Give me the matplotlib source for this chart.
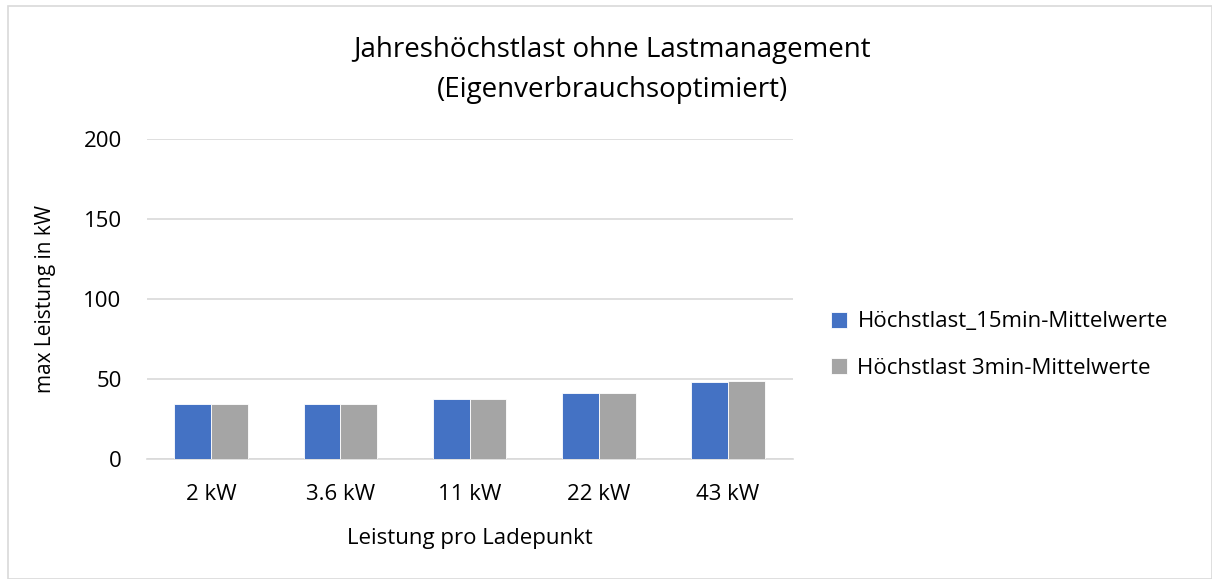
import numpy as np
import matplotlib.pyplot as plt
from matplotlib.patches import Rectangle

plt.rcParams['font.family'] = ['Open Sans', 'DejaVu Sans']

categories = ['2 kW', '3.6 kW', '11 kW', '22 kW', '43 kW']
last_15min = [34.4, 34.8, 37.5, 41.3, 48.3]
last_3min = [34.4, 34.8, 37.5, 41.3, 49.1]
series_names = ['Höchstlast_15min-Mittelwerte', 'Höchstlast 3min-Mittelwerte']

fig = plt.figure(figsize=(12.12, 5.79), dpi=100)
ax = fig.add_axes([0.121, 0.2067, 0.533, 0.5533])

x = np.arange(len(categories))
w = 0.285
ax.bar(x - w / 2, last_15min, w, color='#4472c4', edgecolor='white', linewidth=0.6,
       label=series_names[0], zorder=3)
ax.bar(x + w / 2, last_3min, w, color='#a5a5a5', edgecolor='white', linewidth=0.6,
       label=series_names[1], zorder=3)

ax.set_xlim(-0.5, len(categories) - 0.5)
ax.set_ylim(0, 200)
ax.set_yticks([0, 50, 100, 150, 200])
ax.set_xticks(x)
ax.set_xticklabels(categories)
ax.grid(axis='y', color='#d9d9d9', linewidth=1.2, zorder=0)
for s in ['top', 'right', 'left']:
    ax.spines[s].set_visible(False)
ax.spines['bottom'].set_color('#d9d9d9')
ax.spines['bottom'].set_linewidth(1.2)
ax.tick_params(length=0, labelsize=16, colors='#000000')
ax.tick_params(axis='x', pad=18)
ax.tick_params(axis='y', pad=18)

ax.set_xlabel('Leistung pro Ladepunkt', fontsize=16, labelpad=16)
ax.set_ylabel('max Leistung in kW', fontsize=15, labelpad=20)

fig.text(0.505, 0.913, 'Jahreshöchstlast ohne Lastmanagement', ha='center', va='center', fontsize=20)
fig.text(0.505, 0.844, '(Eigenverbrauchsoptimiert)', ha='center', va='center', fontsize=20)

ax.legend(loc='center left', bbox_to_anchor=(1.028, 0.356), frameon=False, fontsize=16,
          handlelength=0.75, handleheight=0.75, handletextpad=0.45, labelspacing=1.15)

fig.add_artist(Rectangle((0.007, 0.0), 0.993, 0.99, transform=fig.transFigure,
                         fill=False, edgecolor='#d9d9d9', linewidth=1.2))

fig.savefig('out.png', dpi=100)
